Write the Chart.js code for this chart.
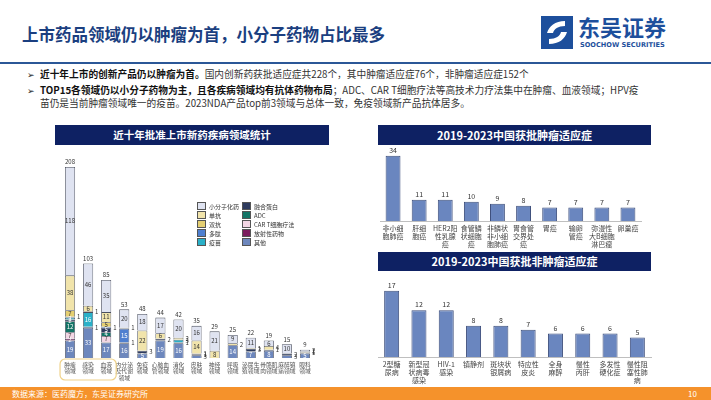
<!DOCTYPE html>
<html>
<head>
<meta charset="utf-8">
<script src="https://cdn.jsdelivr.net/npm/chart.js@4.4.1/dist/chart.umd.min.js"></script>
<style>
  body { margin: 0; }
  #page { position: relative; width: 711px; height: 400px; overflow: hidden; background: #fff;
          font-family: "Noto Sans CJK SC", "Noto Sans", sans-serif; color: #333; }
  .abs { position: absolute; }
  #title { left: 22px; top: 22px; font-size: 16.5px; font-weight: bold; color: #1b3f80; white-space: nowrap; }
  #rule { left: 0; top: 62px; width: 711px; height: 2px; background: #2b5797; }
  .bullet { left: 40px; font-size: 9.7px; line-height: 13px; color: #333; white-space: nowrap; }
  .bullet b { color: #111; }
  .bullet::before { content: "➢"; position: absolute; left: -13px; font-size: 9px; color: #222; }
  .panel { background: #0e2163; color: #fff; font-weight: bold; text-align: center; }
  #legend { left: 197px; top: 202px; font-size: 6px; color: #333; line-height: 8.5px; white-space: nowrap; }
  #legend .col { display: inline-block; vertical-align: top; }
  #legend .col:first-child { width: 45px; }
  #legend .sw { display: inline-block; width: 7px; height: 5.5px; border: 0.8px solid #555; margin-right: 3px; vertical-align: -1px; }
  #footer { left: 0; top: 387px; width: 711px; height: 13px; background: #f5922b; color: #fff; font-size: 8px; line-height: 13px; }
</style>
</head>
<body>
<div id="page">
  <div id="title" class="abs">上市药品领域仍以肿瘤为首，小分子药物占比最多</div>

  <svg class="abs" style="left:541px;top:16px" width="32" height="33" viewBox="0 0 32 33">
    <rect x="0" y="0" width="32" height="33" fill="#1d4f9c"/>
    <path d="M24 5 C14 5 8 10 6 17 L12 17 C13 13 17 10 24 10 Z" fill="#fff"/>
    <path d="M8 28 C18 28 24 23 26 16 L20 16 C19 20 15 23 8 23 Z" fill="#fff"/>
  </svg>
  <div class="abs" style="left:578px;top:14px;font-size:22px;line-height:24px;font-weight:bold;color:#1d4f9c;white-space:nowrap">东吴证券</div>
  <div class="abs" style="left:580px;top:41px;font-size:6.6px;font-weight:bold;color:#1d4f9c;white-space:nowrap;font-family:'DejaVu Sans',sans-serif">SOOCHOW SECURITIES</div>
  <div id="rule" class="abs"></div>

  <div class="abs bullet" style="top:68px"><b>近十年上市的创新产品仍以肿瘤为首。</b>国内创新药获批适应症共228个，其中肿瘤适应症76个，非肿瘤适应症152个</div>
  <div class="abs bullet" style="top:84px"><b>TOP15各领域仍以小分子药物为主，且各疾病领域均有抗体药物布局</b>；ADC、CAR T细胞疗法等高技术力疗法集中在肿瘤、血液领域；HPV疫<br>苗仍是当前肿瘤领域唯一的疫苗。2023NDA产品top前3领域与总体一致，免疫领域新产品抗体居多。</div>

  <div class="abs panel" style="left:55px;top:125px;width:274px;height:20px;line-height:20px;font-size:10.5px">近十年批准上市新药疾病领域统计</div>
  <div class="abs panel" style="left:378px;top:125px;width:273px;height:20px;line-height:20px;font-size:11px">2019-2023中国获批肿瘤适应症</div>
  <div class="abs panel" style="left:378px;top:252px;width:273px;height:19px;line-height:19px;font-size:11px">2019-2023中国获批非肿瘤适应症</div>

  <canvas id="areaChart" class="abs" style="left:30px;top:150px" width="325" height="233"></canvas>
  <div id="legend" class="abs"></div>
  <canvas id="tumorChart" class="abs" style="left:370px;top:146px" width="290" height="105"></canvas>
  <canvas id="otherChart" class="abs" style="left:370px;top:275px" width="290" height="112"></canvas>

  <div id="footer" class="abs"><span style="margin-left:12px">数据来源：医药魔方，东吴证券研究所</span><span style="position:absolute;left:688px">10</span></div>
</div>

<script>
const FONT = '"Noto Sans CJK SC", "Noto Sans", sans-serif';

// left chart: approved drugs by disease area
const areaLabels = [['肿瘤','领域'], ['感染','领域'], ['血液','领域'], ['内分泌','及代谢','领域'], ['免疫','领域'],
  ['心脑血','管领域'], ['消化','领域'], ['皮肤','领域'], ['神经','领域'], ['呼吸','领域'], ['泌尿生','殖领域'],
  ['骨骼肌','肉领域'], ['麻醉镇','痛领域'], ['眼科','领域']];
const areaTotals = [208, 103, 85, 53, 48, 44, 42, 35, 29, 25, 22, 19, 15, 9];

const otherVals    = [19, 33, 17, 16, 5, 19, 16, 3, null, 14, 7, 8, 3, 5];
const radioVals    = [2, null, null, null, null, null, null, null, null, null, null, null, null, null];
const cartVals     = [7, null, 7, null, null, null, null, null, null, null, null, null, null, null];
const adcVals      = [12, null, 4, null, null, null, null, null, null, null, null, null, null, null];
const fusionVals   = [2, 1, 5, 1, 3, 2, 1, 1, null, null, 3, 1, 2, 1];
const vaccineVals  = [2, 16, null, null, null, null, 3, null, null, null, null, null, null, null];
const peptideVals  = [1, null, 1, 15, null, null, null, null, null, null, null, null, null, null];
const bsabVals     = [7, 1, 5, null, null, null, null, 1, null, null, null, null, null, null];
const mabVals      = [38, 6, 11, 1, 22, 6, 2, 14, 8, 2, 1, 4, null, 1];
const smallVals    = [118, 46, 35, 20, 18, 17, 20, 16, 21, 9, 11, 6, 10, 2];

// right charts
const tumorLabels = [['非小细','胞肺癌'], ['肝细','胞癌'], ['HER2阳','性乳腺','癌'], ['食管鳞','状细胞','癌'],
  ['非鳞状','非小细','胞肺癌'], ['胃食管','交界处','癌'], ['胃癌'], ['输卵','管癌'], ['弥漫性','大B细胞','淋巴瘤'], ['卵巢癌']];
const tumorVals = [34, 11, 11, 10, 9, 8, 7, 7, 7, 7];

const otherLabels = [['2型糖','尿病'], ['新型冠','状病毒','感染'], ['HIV-1','感染'], ['镇静剂'], ['斑块状','银屑病'],
  ['特应性','皮炎'], ['全身','麻醉'], ['慢性','丙肝'], ['多发性','硬化症'], ['慢性阻','塞性肺','病']];
const otherIndVals = [17, 12, 12, 8, 8, 7, 6, 6, 6, 5];

const series = [
  { name: '其他',         data: otherVals,   color: '#6d87bd', dark: true },
  { name: '放射性药物',   data: radioVals,   color: '#7b1c5e', dark: true },
  { name: 'CAR T细胞疗法', data: cartVals,   color: '#f3d6e4', dark: false },
  { name: 'ADC',          data: adcVals,     color: '#137466', dark: true },
  { name: '融合蛋白',     data: fusionVals,  color: '#2e3b5e', dark: true },
  { name: '疫苗',         data: vaccineVals, color: '#2ab0c8', dark: true },
  { name: '多肽',         data: peptideVals, color: '#4f7fd0', dark: true },
  { name: '双抗',         data: bsabVals,    color: '#e5cf72', dark: false },
  { name: '单抗',         data: mabVals,     color: '#f1e4ab', dark: false },
  { name: '小分子化药',   data: smallVals,   color: '#dfe3f1', dark: false }
];

// legend, two columns in the reference order
const legendCols = [['小分子化药', '单抗', '双抗', '多肽', '疫苗'], ['融合蛋白', 'ADC', 'CAR T细胞疗法', '放射性药物', '其他']];
document.getElementById('legend').innerHTML = legendCols.map(col =>
  '<div class="col">' + col.map(n => {
    const s = series.find(x => x.name === n);
    return '<div><span class="sw" style="background:' + s.color + '"></span>' + n + '</div>';
  }).join('') + '</div>').join('');

const stackLabels = {
  id: 'stackLabels',
  afterDatasetsDraw(chart) {
    const ctx = chart.ctx;
    ctx.save();
    ctx.font = '6px ' + FONT;
    ctx.textAlign = 'center';
    ctx.textBaseline = 'middle';
    chart.data.datasets.forEach((ds, di) => {
      const meta = chart.getDatasetMeta(di);
      meta.data.forEach((bar, i) => {
        const v = ds.data[i];
        if (!v) return;
        const cy = (bar.y + bar.base) / 2;
        if (v >= 5 || (v >= 2 && di > 0 && di < 7 && i < 3)) {
          ctx.fillStyle = series[di].dark ? '#fff' : '#333';
          ctx.fillText(v, bar.x, cy);
        } else {
          ctx.fillStyle = '#333';
          ctx.textAlign = 'left';
          ctx.fillText(v, bar.x + 7, cy);
          ctx.textAlign = 'center';
        }
      });
    });
    const ys = chart.scales.y, xs = chart.scales.x;
    ctx.fillStyle = '#333';
    ctx.textBaseline = 'bottom';
    areaTotals.forEach((t, i) => ctx.fillText(t, xs.getPixelForValue(i), ys.getPixelForValue(t) - 2));
    // rounded highlight around the first three categories
    const l = xs.getPixelForValue(0) - 10, r = xs.getPixelForValue(2) + 10;
    const top = chart.chartArea.bottom + 1, h = 21;
    ctx.strokeStyle = '#efd28a';
    ctx.lineWidth = 1.2;
    ctx.beginPath();
    ctx.roundRect(l, top, r - l, h, 5);
    ctx.stroke();
    ctx.restore();
  }
};

new Chart(document.getElementById('areaChart'), {
  type: 'bar',
  data: {
    labels: areaLabels,
    datasets: series.map(s => ({
      label: s.name, data: s.data, backgroundColor: s.color,
      borderColor: '#4a4f5e', borderWidth: 0.8,
      categoryPercentage: 1, barPercentage: 0.56
    }))
  },
  options: {
    responsive: false, animation: false,
    layout: { padding: { left: 31, right: 41, top: 6, bottom: 0 } },
    plugins: { legend: { display: false }, tooltip: { enabled: false } },
    scales: {
      x: { stacked: true, grid: { display: false, drawTicks: false }, border: { display: false },
           ticks: { font: { size: 5.8, family: FONT, lineHeight: 1.15 }, color: '#555', maxRotation: 0, autoSkip: false, padding: 3 },
           afterFit(s) { s.height = 25; } },
      y: { stacked: true, display: false, min: 0, max: 220 }
    }
  },
  plugins: [stackLabels]
});

const valueLabels = {
  id: 'valueLabels',
  afterDatasetsDraw(chart) {
    const ctx = chart.ctx;
    ctx.save();
    ctx.font = '7px ' + FONT;
    ctx.fillStyle = '#333';
    ctx.textAlign = 'center';
    ctx.textBaseline = 'bottom';
    chart.getDatasetMeta(0).data.forEach((bar, i) => {
      ctx.fillText(chart.data.datasets[0].data[i], bar.x, bar.y - 2);
    });
    ctx.restore();
  }
};

function simpleBar(id, labels, values, max, pad, barPct) {
  new Chart(document.getElementById(id), {
    type: 'bar',
    data: {
      labels: labels,
      datasets: [{ data: values, backgroundColor: '#6a86bf', borderColor: '#3e4f7c', borderWidth: 1,
                   categoryPercentage: 1, barPercentage: barPct }]
    },
    options: {
      responsive: false, animation: false,
      layout: { padding: pad },
      plugins: { legend: { display: false }, tooltip: { enabled: false } },
      scales: {
        x: { grid: { display: false, drawTicks: false }, border: { display: true, color: '#bfbfbf' },
             ticks: { font: { size: 7, family: FONT, lineHeight: 1.15 }, color: '#444', maxRotation: 0, autoSkip: false, padding: 3 },
             afterFit(s) { s.height = 30; } },
        y: { display: false, min: 0, max: max }
      }
    },
    plugins: [valueLabels]
  });
}

simpleBar('tumorChart', tumorLabels, tumorVals, 38, { left: 10, right: 19, top: 2, bottom: 0 }, 0.57);
simpleBar('otherChart', otherLabels, otherIndVals, 20, { left: 8, right: 9, top: 4, bottom: 0 }, 0.55);
</script>
</body>
</html>
